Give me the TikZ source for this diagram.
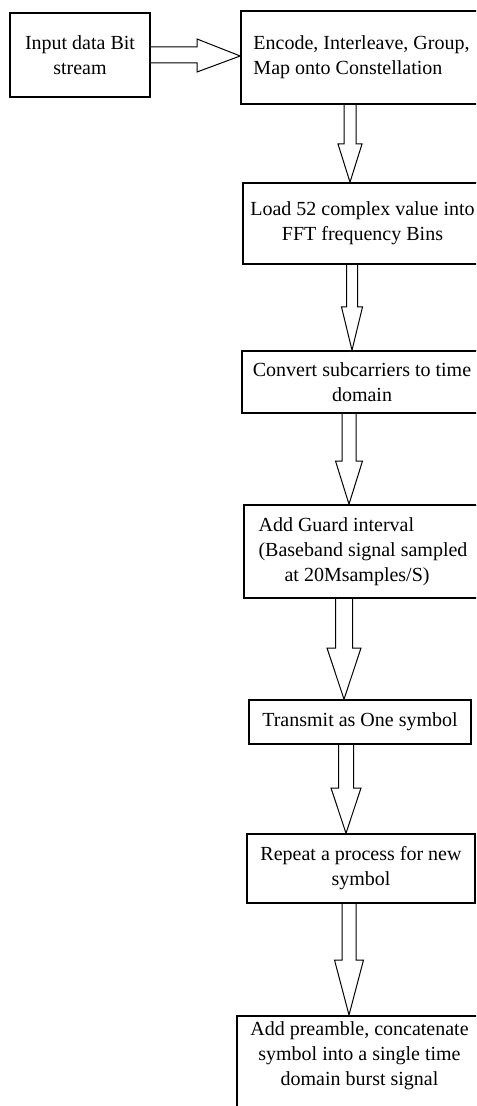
\documentclass[tikz,border=0pt]{standalone}
\usepackage{fontspec}
\setmainfont{Liberation Serif}

% hollow block arrow pointing down: from, to, x, shaft half width, head half width, head start
\newcommand{\blockdown}[6]{%
  \draw (#3-#4,0 |- #1.south) -- (#3-#4,#6) -- (#3-#5,#6) -- (#3,0 |- #2.north)
    -- (#3+#5,#6) -- (#3+#4,#6) -- (#3+#4,0 |- #1.south);
}

\begin{document}
\begin{tikzpicture}[x=0.5pt, y=-0.5pt,
    box/.style={rectangle, draw, line width=0.8pt, inner xsep=2pt, inner ysep=3pt, align=center,
      font=\fontsize{10pt}{12.5pt}\selectfont}]
    \clip (0,0) rectangle (476,1106);
    \begin{scope}

        \begin{scope}
          \node [box, minimum width=70pt, minimum height=42pt] (0) at (80,55) {Input data Bit\\stream};
          \node [box, align=left, minimum width=120.5pt, minimum height=46.5pt] (1) at (361.5,57.5) {Encode, Interleave, Group,\\Map onto Constellation};
          \node [box, minimum width=119.5pt, minimum height=40.5pt] (2) at (362.5,223.5) {Load 52 complex value into\\FFT frequency Bins};
          \node [box, minimum width=120pt, minimum height=31pt] (3) at (362,382) {Convert subcarriers to time\\domain};
          \node [box, align=left, minimum width=119pt, minimum height=46.5pt] (4) at (363,551.5) {Add Guard interval\\(Baseband signal sampled\\\hspace{1.3em}at 20Msamples/S)};
          \node [box, minimum width=111pt, minimum height=22pt] (5) at (360,722) {Transmit as One symbol};
          \node [box, minimum width=114pt, minimum height=34.5pt] (6) at (361,868.5) {Repeat a process for new\\symbol};
          \node [box, anchor=north, minimum width=122.5pt, text depth=40pt] (7) at (359.5,1015) {Add preamble, concatenate\\symbol into a single time\\domain burst signal};
        \end{scope}

        \begin{scope}[line width=0.5pt]
          \draw (0.east |- 0,47) -- (197,47) -- (197,39) -- (1.west |- 0,56) -- (197,72) -- (197,63) -- (0.east |- 0,63);
          \blockdown{1}{2}{350}{6}{12}{144}
          \blockdown{2}{3}{352}{5.5}{10.5}{307}
          \blockdown{3}{4}{349}{7}{13.5}{461}
          \blockdown{4}{5}{344}{8.5}{17}{648}
          \blockdown{5}{6}{346}{7.5}{15}{788}
          \blockdown{6}{7}{349}{7}{14.5}{960}
        \end{scope}
      \end{scope}

  \end{tikzpicture}
\end{document}
